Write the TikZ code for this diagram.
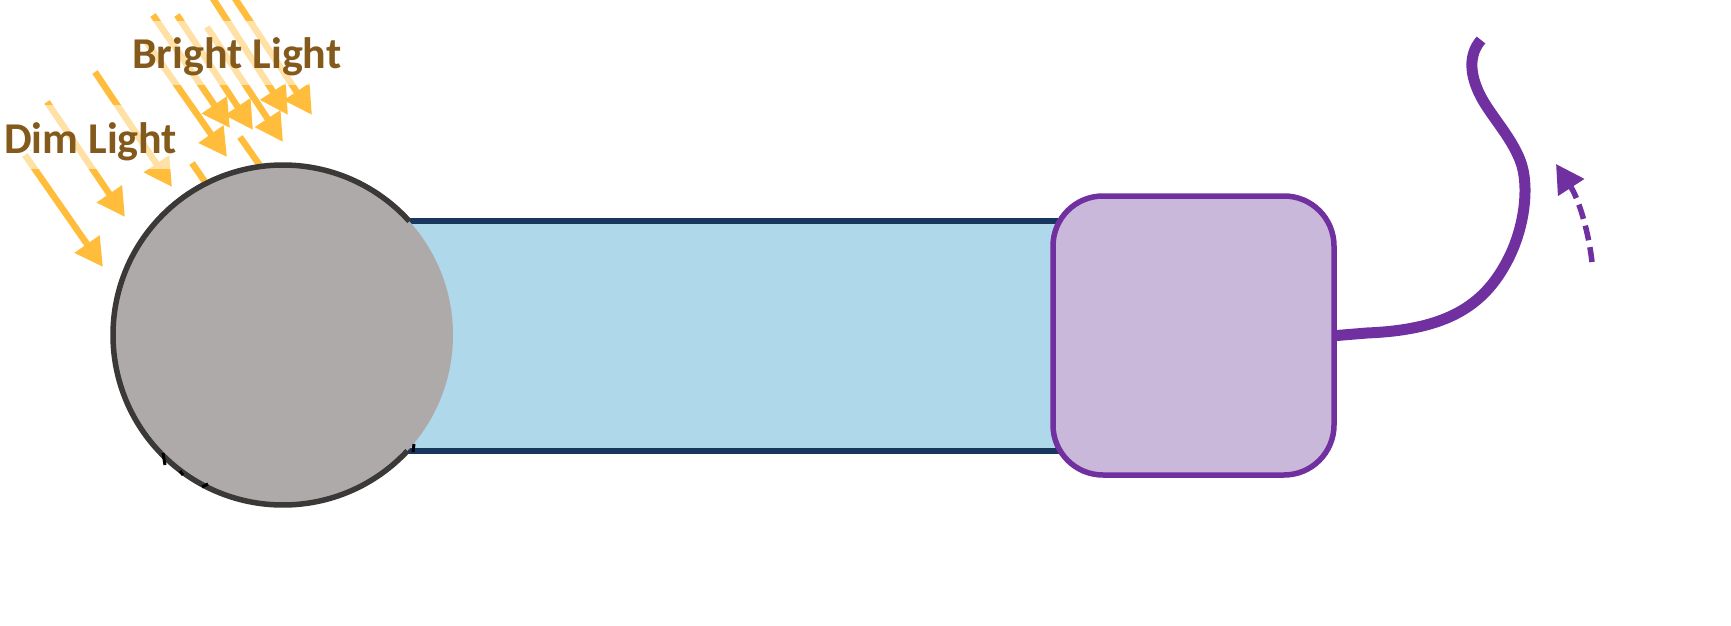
\documentclass[tikz,border=0pt]{standalone}
\usepackage{fontspec}
\setmainfont{Carlito}
\usetikzlibrary{arrows.meta}

\definecolor{raygold}{RGB}{255,189,59}
\definecolor{labelbrown}{RGB}{131,90,28}
\definecolor{stonegray}{RGB}{174,170,170}
\definecolor{stoneedge}{RGB}{59,56,56}
\definecolor{tubefill}{RGB}{175,216,235}
\definecolor{tubeedge}{RGB}{23,55,94}
\definecolor{plum}{RGB}{112,48,160}
\definecolor{lilac}{RGB}{201,184,217}

\tikzset{
  ray/.style={draw=raygold, line width=6.5pt, -{Triangle[length=28pt,width=29pt]}},
  raystub/.style={draw=raygold, line width=6.5pt},
  lightlabel/.style={font=\bfseries\fontsize{44}{52}\selectfont, text=labelbrown,
    fill=white, fill opacity=0.55, text opacity=1, anchor=base west,
    inner xsep=3pt, inner ysep=0pt, text height=48pt, text depth=16pt},
  tubebody/.style={rectangle, draw=tubeedge, fill=tubefill, line width=5.5pt,
    inner sep=0pt},
  stone/.style={circle, fill=stonegray, inner sep=0pt, minimum size=340pt},
  stoneline/.style={draw=stoneedge, line width=5.5pt},
  nick/.style={draw=black, line width=3pt},
  module/.style={rectangle, draw=plum, fill=lilac, line width=5.5pt,
    rounded corners=50pt, inner sep=0pt},
  cable/.style={draw=plum, line width=11pt},
  swing/.style={draw=plum, line width=5.5pt, dash pattern=on 15pt off 7pt,
    -{Triangle[length=28pt,width=30pt]}}
}

\begin{document}
\begin{tikzpicture}[x=1pt, y=-1pt]
  \clip (0,0) rectangle (1731,626);

  % incoming light rays
  \draw[ray] (25,155) -- (103,267);
  \draw[ray] (47,102) -- (125,217);
  \draw[ray] (95,72) -- (172,187);
  \draw[raystub] (192,163) -- (214,195);
  \draw[raystub] (240,137) -- (268,177);
  \draw[ray] (145,40) -- (227,157);
  \draw[ray] (153,15) -- (230,128);
  \draw[ray] (177,15) -- (253,130);
  \draw[ray] (207,27) -- (283,142);
  \draw[ray] (212,-3) -- (288,115);
  \draw[ray] (234,-3) -- (312,115);

  % labels, with a translucent backing over the rays
  \node[lightlabel] (dim) at (1,153) {Dim Light};
  \node[lightlabel] (bright) at (129,69) {Bright Light};

  % tube
  \node[tubebody, minimum width=850pt, minimum height=230pt] (tube) at (675,336) {};

  % sphere with its outline left open where it meets the tube
  \node[stone] (ball) at (283,335) {};
  \draw[stoneline] (ball.center) ++(43:170) arc[start angle=43, end angle=318, radius=170];
  \draw[nick] (163,453) -- (165,465);
  \draw[nick] (180,471) -- (183,475);
  \draw[nick] (202,487) -- (208,484);
  \draw[nick] (414,444) -- (413,452);

  % end module and its cable
  \node[module, minimum width=281pt, minimum height=279pt] (box) at (1193.5,335.5) {};
  \coordinate (cableEnd) at (1481,40);
  \draw[cable] (box.east) -- (1367,333)
    .. controls (1440,330) and (1480,310) .. (1505,265)
    .. controls (1525,230) and (1530,185) .. (1520,160)
    .. controls (1510,135) and (1490,115) .. (1480,95)
    .. controls (1470,75) and (1468,55) .. (cableEnd);

  % swing direction
  \coordinate (swingFrom) at (1592,262);
  \coordinate (swingTo) at (1556,164);
  \draw[swing] (swingFrom) .. controls (1588,228) and (1578,198) .. (swingTo);
\end{tikzpicture}
\end{document}
